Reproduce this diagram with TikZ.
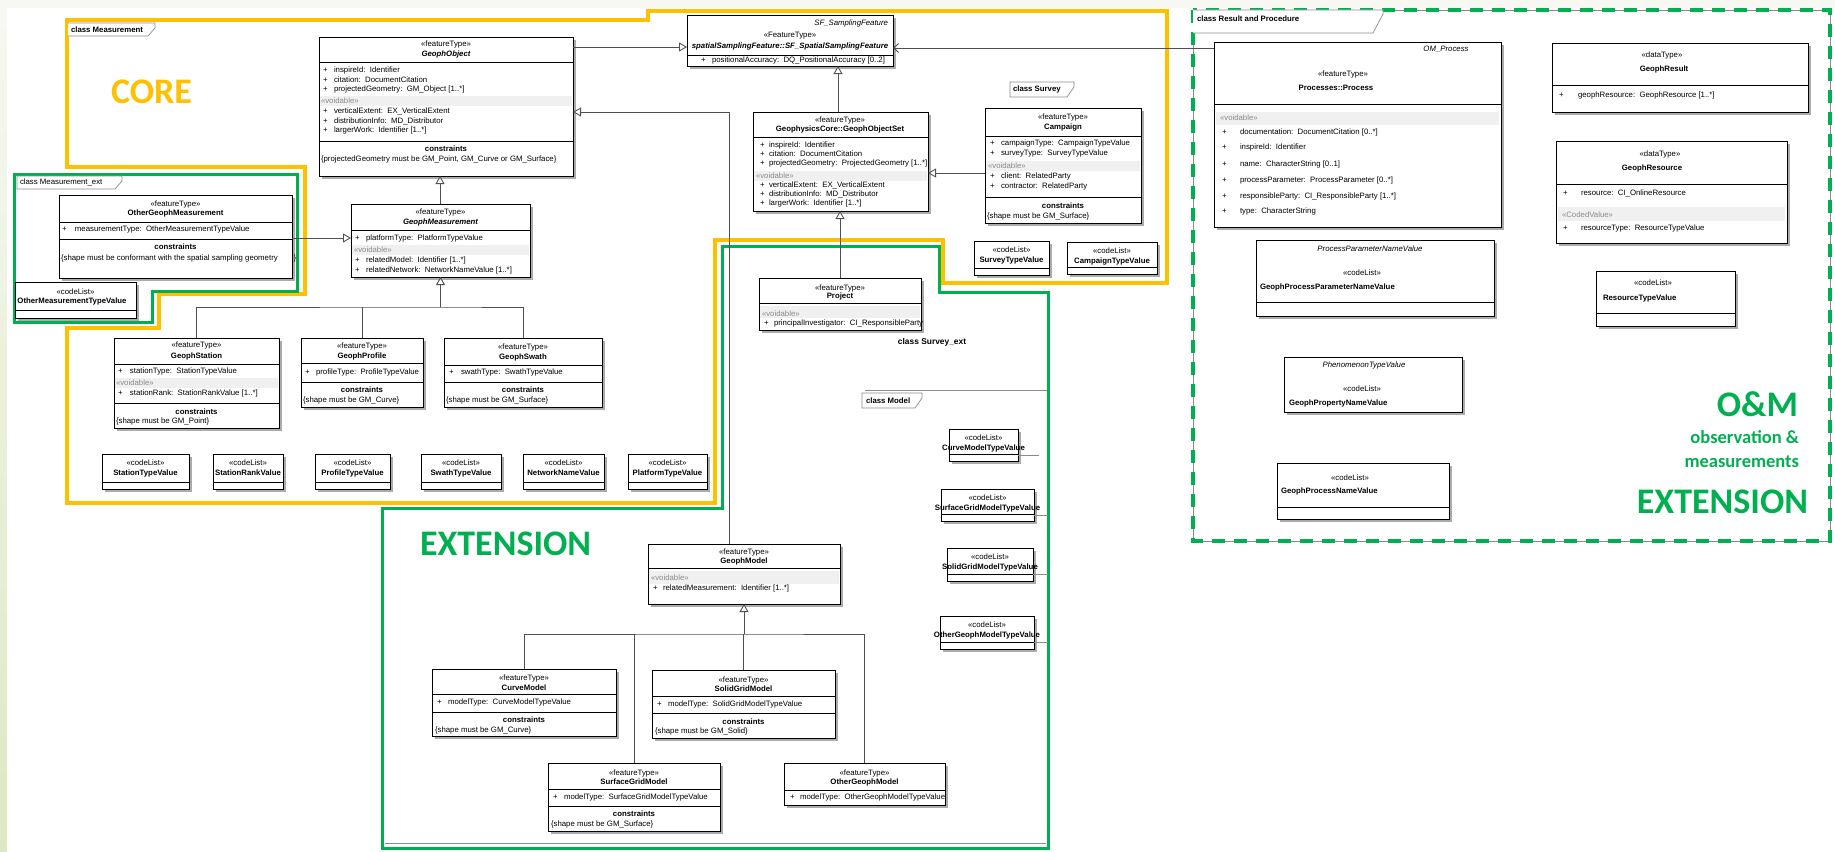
\documentclass[tikz,border=0pt]{standalone}
\usepackage{fontspec}
\setmainfont{Liberation Sans}
\newfontfamily\calfont{Carlito}
\usetikzlibrary{arrows.meta}
\definecolor{coreyellow}{HTML}{FFC000}
\definecolor{extgreen}{HTML}{00B050}
\definecolor{canvas}{HTML}{F7F8F2}
\definecolor{canvasgreen}{HTML}{DDE8C3}
\definecolor{linegray}{HTML}{505050}
\definecolor{framegray}{HTML}{8C8C8C}
\definecolor{bandgray}{HTML}{F0F0F0}
\definecolor{shadowgray}{HTML}{ABABAB}
\definecolor{voidgray}{HTML}{8A8A8A}
\newcommand\umlfont{\fontsize{7.8}{9}\selectfont}
\newcommand\vd{\textcolor{voidgray}{«voidable»}}
\newcounter{tn}
% text node with an automatic name
\newcommand\T[4][]{\stepcounter{tn}\node[txt,#1] (t\arabic{tn}) at (#2,#3) {#4};}
% attribute line: plus sign at #1, text at #2
\newcommand\attr[4]{\T{#1}{#3}{\makebox[\dimexpr#2pt-#1pt\relax][l]{+}#4}}
% class box with drop shadow: name, x1, y1, x2, y2
\newcommand\cls[5]{%
  \fill[shadowgray] (#2+3,#3+3) rectangle (#4+3,#5+3);
  \node[clsbox, anchor=north west, minimum width={#4pt-#2pt}, minimum height={#5pt-#3pt}] (#1) at (#2,#3) {};}
\newcommand\hl[3]{\draw[divider] (#1,#3) -- (#2,#3);}
\newcommand\band[4]{\fill[bandgray] (#1,#3) rectangle (#2,#4);}
% code list box: name, x1, y1, x2, y2, label
\newcommand\codelist[6]{%
  \cls{#1}{#2}{#3}{#4}{#5}
  \T[anchor=center]{{(#2+#4)/2}}{#3+9}{«codeList»}
  \T[anchor=center]{{(#2+#4)/2}}{#3+19}{\bfseries #6}
  \hl{#2}{#4}{#5-7}}

\begin{document}
\begin{tikzpicture}[x=1pt,y=-1pt,
  clsbox/.style={draw=black, line width=0.8pt, fill=white, inner sep=0pt, outer sep=0pt, rectangle},
  txt/.style={inner sep=0pt, outer sep=0pt, font=\umlfont, anchor=west},
  divider/.style={draw=black, line width=0.8pt},
  conn/.style={draw=linegray, line width=0.9pt},
  gen/.style={conn, -{Triangle[open, length=8pt, width=9pt, fill=white]}},
  assoc/.style={conn, -{Straight Barb[length=5pt, width=9pt]}},
  tabline/.style={draw=framegray, line width=0.7pt},
  thinline/.style={draw=framegray, line width=0.6pt},
  bigtxt/.style={inner sep=0pt, outer sep=0pt, font=\calfont\bfseries\fontsize{36}{40}\selectfont},
  midtxt/.style={inner sep=0pt, outer sep=0pt, font=\calfont\bfseries\fontsize{18.5}{22}\selectfont},
]
\useasboundingbox (0,0) rectangle (1835,851);

% canvas
\fill[canvas] (0,0) rectangle (1835,851);
\shade[top color=canvas, bottom color=canvasgreen] (0,0) rectangle (7,851);
\fill[white] (7,8) rectangle (1835,851);

% package frames
\draw[coreyellow, line width=3.5pt, line join=miter]
  (67,20) -- (648,20) -- (648,11) -- (1167,11) -- (1167,283) -- (943,283) -- (943,240)
  -- (715,240) -- (715,503) -- (67,503) -- (67,328) -- (159,328) -- (159,294)
  -- (305,294) -- (305,167) -- (67,167) -- cycle;
\draw[extgreen, line width=3pt, line join=miter]
  (14,174) -- (297,174) -- (297,291) -- (152,291) -- (152,322) -- (14,322) -- cycle;
\draw[extgreen, line width=3pt, line join=miter]
  (382,508) -- (722,508) -- (722,246) -- (939,246) -- (939,292) -- (1048,292)
  -- (1048,848) -- (382,848) -- cycle;
\draw[thinline] (865,390) -- (1047,390);
\draw[thinline] (385,843) -- (1046,843);
\draw[framegray, line width=0.8pt] (1193,10) rectangle (1830,541);
\draw[extgreen, line width=3.5pt, dash pattern=on 13pt off 9pt] (1193,10) rectangle (1830,541);

% frame tabs
\draw[tabline, fill=white] (68,23) -- (155,23) -- (155,28) -- (148,36) -- (68,36);
\T{71}{29.5}{\bfseries class Measurement}
\draw[tabline, fill=white] (17,176) -- (122,176) -- (122,181) -- (115,189) -- (17,189) -- cycle;
\T{20}{182.5}{class Measurement\_ext}
\draw[tabline, fill=white] (1010,82) -- (1074,82) -- (1074,87) -- (1067,97) -- (1010,97) -- cycle;
\T{1013}{89.5}{\bfseries class Survey}
\draw[tabline, fill=white] (862,408) -- (862,393) -- (922,393) -- (922,398) -- (915,408) -- cycle;
\T{866}{400.5}{\bfseries class Model}
\draw[tabline, fill=white] (1193,33) -- (1373,33) -- (1383,14) -- (1383,10) -- (1193,10);
\T{1197}{18.5}{\bfseries class Result and Procedure}
\T[anchor=center]{932}{342}{\bfseries\fontsize{8.4}{10}\selectfont class Survey\_ext}

% big labels
\node[bigtxt, text=coreyellow, anchor=base west] (corelbl) at (111,103) {CORE};
\node[bigtxt, text=extgreen, anchor=base west] (extlbl) at (420,555) {EXTENSION};
\node[bigtxt, text=extgreen, anchor=base east] (omlbl) at (1798,416) {O\&M};
\node[midtxt, text=extgreen, anchor=base east] (obslbl) at (1799,443) {observation \&};
\node[midtxt, text=extgreen, anchor=base east] (measlbl) at (1799,467) {measurements};
\node[bigtxt, text=extgreen, anchor=base east] (omextlbl) at (1808,513) {EXTENSION};

% ---- Measurement
\cls{gobj}{319}{37}{573}{176}
\T[anchor=center]{446}{44}{«featureType»}
\T[anchor=center]{446}{54}{\bfseries\itshape GeophObject}
\hl{319}{573}{62}
\attr{323}{334}{70}{inspireId:\ \ Identifier}
\attr{323}{334}{80}{citation:\ \ DocumentCitation}
\attr{323}{334}{89}{projectedGeometry:\ \ GM\_Object [1..*]}
\band{320}{572}{96}{106}
\T{321}{101}{\vd}
\attr{323}{334}{111}{verticalExtent:\ \ EX\_VerticalExtent}
\attr{323}{334}{121}{distributionInfo:\ \ MD\_Distributor}
\attr{323}{334}{130}{largerWork:\ \ Identifier [1..*]}
\hl{319}{573}{141}
\T[anchor=center]{446}{149}{\bfseries constraints}
\T{321}{159}{\{projectedGeometry must be GM\_Point, GM\_Curve or GM\_Surface\}}

\cls{gmeas}{351}{204}{530}{277}
\T[anchor=center]{440.5}{212}{«featureType»}
\T[anchor=center]{440.5}{222}{\bfseries\itshape GeophMeasurement}
\hl{351}{530}{230}
\attr{355}{366}{238}{platformType:\ \ PlatformTypeValue}
\band{352}{529}{245}{255}
\T{354}{250}{\vd}
\attr{355}{366}{260}{relatedModel:\ \ Identifier [1..*]}
\attr{355}{366}{270}{relatedNetwork:\ \ NetworkNameValue [1..*]}

\cls{ogm}{59}{195}{292}{278}
\T[anchor=center]{175.5}{204}{«featureType»}
\T[anchor=center]{175.5}{213}{\bfseries OtherGeophMeasurement}
\hl{59}{292}{222}
\attr{62}{75}{229.5}{measurementType:\ \ OtherMeasurementTypeValue}
\hl{59}{292}{239}
\T[anchor=center]{175.5}{247}{\bfseries constraints}
\T{61}{258}{\{shape must be conformant with the spatial sampling geometry\hspace{16pt}\}}

\cls{omtv}{15}{282}{136}{318}
\T[anchor=center]{75.5}{292}{«codeList»}
\T[anchor=center]{72}{301}{\bfseries OtherMeasurementTypeValue}
\hl{15}{136}{310}

\cls{gstat}{114}{338}{279}{428}
\T[anchor=center]{196.5}{345}{«featureType»}
\T[anchor=center]{196.5}{356}{\bfseries GeophStation}
\hl{114}{279}{364}
\attr{118}{130}{371}{stationType:\ \ StationTypeValue}
\band{115}{278}{378}{388}
\T{116}{383}{\vd}
\attr{118}{130}{393}{stationRank:\ \ StationRankValue [1..*]}
\hl{114}{279}{403}
\T[anchor=center]{196.5}{412}{\bfseries constraints}
\T{116}{421}{\{shape must be GM\_Point\}}

\cls{gprof}{301}{338}{423}{407}
\T[anchor=center]{362}{346}{«featureType»}
\T[anchor=center]{362}{356}{\bfseries GeophProfile}
\hl{301}{423}{363}
\attr{305}{316}{372}{profileType:\ \ ProfileTypeValue}
\hl{301}{423}{382}
\T[anchor=center]{362}{390}{\bfseries constraints}
\T{303}{400}{\{shape must be GM\_Curve\}}

\cls{gswath}{444}{338}{602}{407}
\T[anchor=center]{523}{347}{«featureType»}
\T[anchor=center]{523}{357}{\bfseries GeophSwath}
\hl{444}{602}{365}
\attr{449}{461}{372}{swathType:\ \ SwathTypeValue}
\hl{444}{602}{382}
\T[anchor=center]{523}{390}{\bfseries constraints}
\T{446}{400}{\{shape must be GM\_Surface\}}

\codelist{stv1}{102}{454}{189}{489}{StationTypeValue}
\codelist{srv}{213}{454}{283}{489}{StationRankValue}
\codelist{ptv1}{315}{454}{390}{489}{ProfileTypeValue}
\codelist{swtv}{421}{454}{501}{489}{SwathTypeValue}
\codelist{nnv}{523}{454}{604}{489}{NetworkNameValue}
\codelist{pltv}{628}{454}{707}{489}{PlatformTypeValue}

% ---- sampling feature and survey
\cls{sfssf}{687}{15}{893}{66}
\T[anchor=east]{888}{23}{\itshape SF\_SamplingFeature}
\T[anchor=center]{790}{36}{«FeatureType»}
\T[anchor=center]{790}{46}{\bfseries\itshape spatialSamplingFeature::SF\_SpatialSamplingFeature}
\hl{687}{893}{55}
\attr{701}{712}{60.5}{positionalAccuracy:\ \ DQ\_PositionalAccuracy [0..2]}

\cls{gos}{753}{112}{928}{211}
\T[anchor=center]{840}{120}{«featureType»}
\T[anchor=center]{840}{129}{\bfseries GeophysicsCore::GeophObjectSet}
\hl{753}{928}{137}
\attr{760}{769}{145}{inspireId:\ \ Identifier}
\attr{760}{769}{154}{citation:\ \ DocumentCitation}
\attr{760}{769}{163}{projectedGeometry:\ \ ProjectedGeometry [1..*]}
\band{754}{927}{171}{181}
\T{756}{176}{\vd}
\attr{760}{769}{185}{verticalExtent:\ \ EX\_VerticalExtent}
\attr{760}{769}{194}{distributionInfo:\ \ MD\_Distributor}
\attr{760}{769}{203}{largerWork:\ \ Identifier [1..*]}

\cls{camp}{985}{108}{1141}{223}
\T[anchor=center]{1063}{117}{«featureType»}
\T[anchor=center]{1063}{127}{\bfseries Campaign}
\hl{985}{1141}{136}
\attr{990}{1001}{143}{campaignType:\ \ CampaignTypeValue}
\attr{990}{1001}{153}{surveyType:\ \ SurveyTypeValue}
\band{986}{1140}{161}{171}
\T{988}{166}{\vd}
\attr{990}{1001}{176}{client:\ \ RelatedParty}
\attr{990}{1001}{186}{contractor:\ \ RelatedParty}
\hl{985}{1141}{197}
\T[anchor=center]{1063}{206}{\bfseries constraints}
\T{987}{216}{\{shape must be GM\_Surface\}}

\codelist{svtv}{974}{241}{1049}{275}{SurveyTypeValue}
\codelist{cptv}{1067}{242}{1157}{274}{CampaignTypeValue}

\cls{proj}{759}{278}{921}{330}
\T[anchor=center]{840}{288}{«featureType»}
\T[anchor=center]{840}{296}{\bfseries Project}
\hl{759}{921}{303}
\band{760}{920}{306}{318}
\T{762}{314}{\vd}
\attr{764}{774}{323}{principalInvestigator:\ \ CI\_ResponsibleParty}

% ---- model
\cls{gmodel}{648}{544}{840}{604}
\T[anchor=center]{744}{552}{«featureType»}
\T[anchor=center]{744}{561}{\bfseries GeophModel}
\hl{648}{840}{568}
\band{649}{839}{571}{584}
\T{651}{578}{\vd}
\attr{653}{663}{588}{relatedMeasurement:\ \ Identifier [1..*]}

\cls{curve}{432}{669}{616}{736}
\T[anchor=center]{524}{678}{«featureType»}
\T[anchor=center]{524}{688}{\bfseries CurveModel}
\hl{432}{616}{694}
\attr{437}{448}{702}{modelType:\ \ CurveModelTypeValue}
\hl{432}{616}{712}
\T[anchor=center]{524}{720}{\bfseries constraints}
\T{435}{730}{\{shape must be GM\_Curve\}}

\cls{solid}{652}{670}{835}{738}
\T[anchor=center]{743.5}{680}{«featureType»}
\T[anchor=center]{743.5}{689}{\bfseries SolidGridModel}
\hl{652}{835}{696}
\attr{657}{668}{704}{modelType:\ \ SolidGridModelTypeValue}
\hl{652}{835}{713}
\T[anchor=center]{743.5}{722}{\bfseries constraints}
\T{655}{731}{\{shape must be GM\_Solid\}}

\cls{surf}{548}{763}{720}{831}
\T[anchor=center]{634}{773}{«featureType»}
\T[anchor=center]{634}{782}{\bfseries SurfaceGridModel}
\hl{548}{720}{789}
\attr{553}{564}{797}{modelType:\ \ SurfaceGridModelTypeValue}
\hl{548}{720}{806}
\T[anchor=center]{634}{814}{\bfseries constraints}
\T{551}{824}{\{shape must be GM\_Surface\}}

\cls{otherm}{784}{763}{945}{805}
\T[anchor=center]{864.5}{773}{«featureType»}
\T[anchor=center]{864.5}{782}{\bfseries OtherGeophModel}
\hl{784}{945}{790}
\attr{790}{800}{797}{modelType:\ \ OtherGeophModelTypeValue}

\codelist{cmtv}{949}{429}{1018}{461}{CurveModelTypeValue}
\codelist{sgmtv}{941}{489}{1034}{521}{SurfaceGridModelTypeValue}
\codelist{sogmtv}{947}{548}{1033}{581}{SolidGridModelTypeValue}
\codelist{ogmtv}{940}{616}{1034}{649}{OtherGeophModelTypeValue}
\draw[thinline] ([yshift=-26pt]cmtv.north east) -- ++(21,0);
\draw[thinline] ([yshift=-26pt]sgmtv.north east) -- ++(14,0);
\draw[thinline] ([yshift=-26pt]sogmtv.north east) -- ++(15,0);
\draw[thinline] ([yshift=-26pt]ogmtv.north east) -- ++(14,0);

% ---- result and procedure
\cls{proc}{1214}{42}{1501}{227}
\T[anchor=center]{1446}{49}{\itshape OM\_Process}
\T[anchor=center]{1343}{74}{«featureType»}
\T[anchor=center]{1336}{88}{\bfseries Processes::Process}
\hl{1214}{1501}{104}
\band{1216}{1499}{112}{125}
\T{1220}{118}{\vd}
\attr{1222}{1240}{132}{documentation:\ \ DocumentCitation [0..*]}
\attr{1222}{1240}{147}{inspireId:\ \ Identifier}
\attr{1222}{1240}{164}{name:\ \ CharacterString [0..1]}
\attr{1222}{1240}{180}{processParameter:\ \ ProcessParameter [0..*]}
\attr{1222}{1240}{196}{responsibleParty:\ \ CI\_ResponsibleParty [1..*]}
\attr{1222}{1240}{211}{type:\ \ CharacterString}

\cls{gres}{1552}{43}{1808}{112}
\T[anchor=center]{1662}{55}{«dataType»}
\T[anchor=center]{1664}{69}{\bfseries GeophResult}
\hl{1552}{1808}{85}
\attr{1559}{1578}{95}{geophResource:\ \ GeophResource [1..*]}

\cls{gresrc}{1556}{141}{1787}{243}
\T[anchor=center]{1660}{154}{«dataType»}
\T[anchor=center]{1652}{168}{\bfseries GeophResource}
\hl{1556}{1787}{184}
\attr{1563}{1581}{193}{resource:\ \ CI\_OnlineResource}
\band{1558}{1785}{207}{221}
\T{1562}{215}{\textcolor{voidgray}{«CodedValue»}}
\attr{1563}{1581}{228}{resourceType:\ \ ResourceTypeValue}

\cls{ppnv}{1256}{240}{1494}{316}
\T[anchor=center]{1370}{249}{\itshape ProcessParameterNameValue}
\T[anchor=center]{1362}{273}{«codeList»}
\T{1260}{287}{\bfseries GeophProcessParameterNameValue}
\hl{1256}{1494}{302}

\cls{rtv}{1596}{271}{1735}{326}
\T[anchor=center]{1653}{283}{«codeList»}
\T{1603}{298}{\bfseries ResourceTypeValue}
\hl{1596}{1735}{313}

\cls{phtv}{1284}{357}{1462}{412}
\T[anchor=center]{1364}{365}{\itshape PhenomenonTypeValue}
\T[anchor=center]{1362}{389}{«codeList»}
\T{1289}{403}{\bfseries GeophPropertyNameValue}

\cls{gpnv}{1277}{463}{1449}{519}
\T[anchor=center]{1350}{478}{«codeList»}
\T{1281}{491}{\bfseries GeophProcessNameValue}
\hl{1277}{1449}{507}

% ---- connectors
\coordinate (g2s) at ([yshift=-10pt]gobj.north east);
\draw[gen] (g2s) -- (g2s -| sfssf.west);
\coordinate (p2s) at ([yshift=-6pt]proc.north west);
\draw[assoc] (p2s) -- (p2s -| sfssf.east);
\coordinate (os2s) at ([xshift=85pt]gos.north west);
\draw[gen] (os2s) -- (os2s |- sfssf.south);
\coordinate (pj2os) at ([xshift=81pt]proj.north west);
\draw[gen] (pj2os) -- (pj2os |- gos.south);
\coordinate (c2os) at ([yshift=-65pt]camp.north west);
\draw[gen] (c2os) -- (c2os -| gos.east);
\coordinate (o2m) at ([yshift=-43pt]ogm.north east);
\draw[gen] (o2m) -- (o2m -| gmeas.west);
\coordinate (m2o) at ([xshift=89pt]gmeas.north west);
\draw[gen] (m2o) -- (m2o |- gobj.south);
\coordinate (md2o) at ([xshift=81pt]gmodel.north west);
\coordinate (o2md) at ([yshift=-75pt]gobj.north east);
\draw[gen] (md2o) |- (o2md);

\coordinate (mjoin) at ([yshift=-30pt]gmeas.south);
\draw[gen] (mjoin) -- (gmeas.south);
\draw[conn] (gstat.north) |- (mjoin) -| (gswath.north);
\draw[conn] (gprof.north) -- (gprof.north |- mjoin);

\coordinate (mdjoin) at ([yshift=-30pt]gmodel.south);
\draw[gen] (mdjoin) -- (gmodel.south);
\draw[conn] (curve.north) |- (mdjoin) -| (otherm.north);
\draw[conn] (surf.north) -- (surf.north |- mdjoin);
\draw[conn] (solid.north) -- (solid.north |- mdjoin);
\end{tikzpicture}
\end{document}
